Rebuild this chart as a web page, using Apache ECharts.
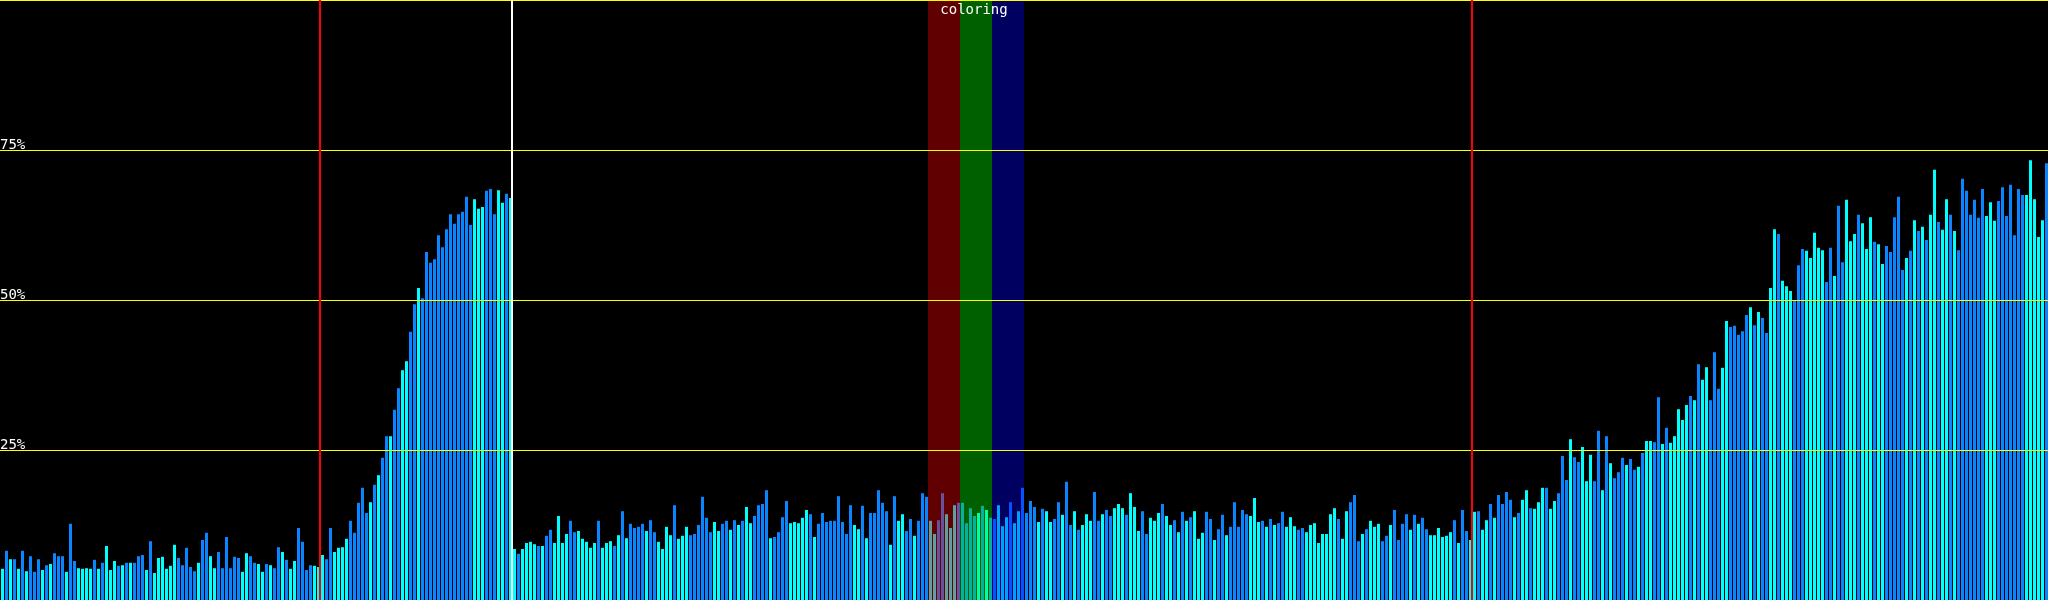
<!DOCTYPE html>
<html>
<head>
<meta charset="utf-8">
<script src="https://cdn.jsdelivr.net/npm/echarts@6/dist/echarts.min.js"></script>
<style>
  html, body { margin: 0; padding: 0; background: #000; }
  #chart { width: 2048px; height: 600px; }
</style>
</head>
<body>
<div id="chart"></div>
<script>
// ---- data (bar heights in percent) ----
const values = [
  // 0-79
  5.2,8.2,6.8,6.8,5.2,8.2,4.8,7.3,4.7,6.8,
  5.0,5.8,6.0,7.8,7.3,7.3,4.7,12.7,6.5,5.3,
  5.2,5.3,5.2,6.7,5.2,6.2,9.0,5.0,6.5,5.7,
  5.8,6.2,6.2,6.2,7.3,7.5,5.0,9.8,4.5,7.0,
  7.2,5.2,5.7,9.2,7.0,5.8,8.7,5.5,4.8,6.2,
  10.0,11.2,7.3,5.3,8.0,5.3,10.5,5.3,7.2,7.0,
  4.7,7.8,7.3,6.2,6.0,4.7,6.0,5.8,5.3,8.8,
  8.0,6.7,5.2,6.5,12.0,9.7,5.0,5.8,5.7,5.5,
  // 80-127
  7.5,6.8,12.0,8.0,8.7,8.8,10.2,13.2,11.2,16.2,
  18.7,14.5,16.3,19.2,20.8,23.7,27.3,27.3,31.7,35.3,
  38.3,39.8,44.7,49.3,52.0,50.3,58.0,56.2,56.8,60.8,
  58.8,61.8,64.3,62.7,64.3,64.7,67.2,62.5,66.8,65.2,
  65.5,68.2,68.5,64.3,68.3,66.2,67.7,67.0,
  // 128-187
  8.5,7.7,8.5,9.5,9.7,9.3,9.0,9.0,10.7,11.7,
  9.5,14.0,9.5,11.0,13.2,11.3,11.5,10.2,9.7,8.7,
  9.5,13.2,8.7,9.5,9.8,9.0,10.8,14.8,10.3,12.7,
  12.0,12.2,12.7,11.5,13.3,11.3,9.7,8.5,12.2,10.8,
  15.8,10.2,10.7,12.2,10.8,11.0,12.5,17.2,13.7,11.3,
  13.0,11.5,12.7,13.2,11.7,13.3,12.5,13.2,15.5,12.8,
  // 188-247
  14.0,15.8,16.0,18.3,10.3,10.5,11.3,13.8,16.5,12.8,
  13.0,12.8,13.7,15.0,14.3,10.5,12.7,14.5,13.0,13.2,
  13.2,17.3,13.0,11.0,15.8,12.5,11.8,15.7,10.3,14.5,
  14.5,18.3,16.2,14.8,9.2,17.3,13.2,14.3,11.5,13.5,
  10.7,13.2,17.8,17.2,13.2,11.0,13.3,17.8,14.3,12.0,
  15.8,16.2,16.2,12.8,15.3,14.0,14.5,15.7,15.0,13.7,
  // 248-307
  13.5,15.8,12.3,13.8,16.3,12.8,14.8,18.7,14.5,16.5,
  15.5,13.0,15.2,14.8,13.0,13.5,16.3,14.2,19.7,12.5,
  14.8,11.7,12.5,14.3,13.2,18.0,13.2,14.3,15.0,14.0,
  15.3,16.0,15.3,14.2,17.8,15.5,11.5,14.8,11.0,13.7,
  13.2,14.5,16.0,14.0,12.5,13.3,11.3,14.7,13.2,13.8,
  14.8,10.2,11.2,14.7,13.5,10.0,11.8,14.2,10.8,12.2,
  // 308-367
  16.3,12.2,15.0,14.3,14.0,17.0,13.0,13.2,12.2,13.5,
  12.5,12.8,14.7,12.2,13.8,12.3,11.7,12.0,11.3,12.5,
  12.8,9.5,11.0,11.0,14.3,15.3,13.5,10.2,14.8,16.3,
  17.5,9.8,11.0,11.8,13.2,12.2,12.7,9.8,10.7,12.5,
  15.0,10.0,12.7,14.3,11.7,14.2,12.7,13.7,11.8,10.8,
  10.8,12.0,10.5,10.7,11.3,13.3,9.5,15.0,11.5,10.0,
  // 368-439
  14.7,14.8,11.7,13.3,16.0,13.7,17.5,16.0,18.0,16.7,
  13.8,14.5,16.7,18.3,15.3,15.2,16.3,18.7,18.7,15.2,
  16.5,17.8,24.0,20.0,26.8,23.8,23.0,25.5,19.8,24.2,
  19.8,28.2,18.3,27.3,22.8,20.3,21.3,23.7,22.5,23.5,
  21.7,22.2,24.5,26.5,26.5,26.3,33.8,26.0,28.7,26.2,
  27.3,31.8,30.0,32.5,34.0,33.3,39.3,36.7,38.8,33.3,
  41.3,35.2,38.7,46.5,45.5,45.7,44.2,44.8,47.5,48.8,
  45.8,48.0,
  // 440-511
  47.0,44.5,52.0,61.8,61.0,53.2,52.3,51.5,50.0,55.8,
  58.5,58.2,57.0,61.2,58.7,58.3,53.0,58.7,54.0,65.7,
  56.3,66.7,59.8,61.0,64.2,62.8,58.5,63.8,59.7,59.3,
  56.0,59.0,58.0,63.8,67.2,55.0,57.0,58.2,63.3,61.5,
  62.2,60.0,64.2,71.7,63.0,61.7,66.8,64.2,61.5,58.3,
  70.2,68.2,64.2,66.7,63.7,68.5,64.0,66.3,63.2,66.5,
  68.8,64.0,69.2,60.8,68.5,67.5,67.5,73.3,66.8,60.5,
  63.3,72.8
];

// tone of each bar: B = blue, C = cyan
const tones = [
  "CBCBCBCBBB","CBCBBBCBBC","CCCBCBCCCB","CBCBBBCBCC","CCCCBBBBBC",
  "BBCCBBBBBB","CCBBCCBCBB","CBCCBBBBCC","CBBCCCCBBB","BBCBCBBCBB",
  "CCBBCBBBBB","BBBBBBBBCC","CBBBCCBC",
  "CBCCCCBCBB","CCCCBBCCCC","CBCCCBCBCB","BBBCBBCCCC","BCCCBBBBBB","CCBBCBCBCC",
  "BBBBCBBBBC","CCCCBCBBBB","BBBBBCCBCB","BBBBCBCCBB","CBBBCCBBCC","CBBBBBCBCB",
  "BCCCBCCBBB","BCBCCBBCBB","CBCCCBBCBB","CCCBCCCBBC","CCBCCBCBCB","CCCBBCBBCB",
  "BBBBCCCBCB","CBBCCCBBCC","CCCCCCBCCB","BBCBCCCBBC","BBBBCBCBBC","CCCCCBCBBC",
  "CBCCBCBBBB","CBCCBCCCBC","CBBBCBBCCC","BBCBCBBBCB","BCBCCBBCBC","CCCCBCBCCB",
  "BBCCBBBBBC","BC",
  "BBCCBCCCBB","BCCCCCBBCB","BCCCBCCCBC","CBBBBBCBCB","CBCCBCCBCB","BBBBBBCCCB",
  "BBBBBBCCCC","CB"
].join('').split('');

const categories = values.map((_, i) => String(i));

// overlay bands (bar-slot units) and marker lines (bar-slot boundaries)
const bandStarts = [232, 240, 248];
const bandEnds = [240, 248, 256];
const redMarks = [80, 368];
const whiteMarks = [128];
const titleText = 'coloring';

// ---- styles ----
const BLUE = '#0a84ff';
const CYAN = '#00ffff';
const YELLOW = '#ffff00';
const bandColors = ['rgba(255,0,0,0.375)', 'rgba(0,255,0,0.375)', 'rgba(0,0,255,0.375)'];

const chart = echarts.init(document.getElementById('chart'), null, { renderer: 'canvas' });

const lineData = [];
redMarks.forEach(x => lineData.push({ xAxis: x, lineStyle: { color: '#ff0000', width: 2, type: 'solid' } }));
whiteMarks.forEach(x => lineData.push({ xAxis: x, lineStyle: { color: '#ffffff', width: 2, type: 'solid' } }));

const option = {
  backgroundColor: '#000000',
  animation: false,
  grid: [
    { left: 0.5, right: -0.5, top: 0, bottom: 0, containLabel: false, outerBoundsMode: 'none' },
    { left: 0, right: 0, top: 0, bottom: 0, containLabel: false, outerBoundsMode: 'none' }
  ],
  xAxis: [
    { type: 'category', gridIndex: 0, data: categories, boundaryGap: true, show: false },
    { type: 'value', gridIndex: 1, min: 0, max: values.length, show: false }
  ],
  yAxis: [
    {
      type: 'value', gridIndex: 1, min: 0, max: 100, interval: 25, z: 20,
      axisLine: { show: false }, axisTick: { show: false },
      splitLine: { show: true, lineStyle: { color: YELLOW, width: 1, type: 'solid' } },
      axisLabel: {
        inside: true, margin: 0, formatter: '{value}%', color: '#ffffff',
        fontFamily: 'DejaVu Sans Mono', fontSize: 14, verticalAlign: 'bottom',
        lineHeight: 10, showMinLabel: false, showMaxLabel: false
      }
    },
    { type: 'value', gridIndex: 0, min: 0, max: 100, interval: 25, show: false }
  ],
  series: [
    {
      type: 'bar', xAxisIndex: 0, yAxisIndex: 1, barWidth: 3, z: 2,
      silent: true,
      data: values.map((v, i) => ({ value: v, itemStyle: { color: tones[i] === 'B' ? BLUE : CYAN } }))
    },
    {
      type: 'line', xAxisIndex: 1, yAxisIndex: 0, data: [], z: 10, silent: true,
      markArea: {
        silent: true, z: 10,
        data: bandStarts.map((s, k) => [
          { xAxis: s, itemStyle: { color: bandColors[k] } },
          { xAxis: bandEnds[k] }
        ])
      },
      markLine: {
        silent: true, z: 22, symbol: ['none', 'none'], label: { show: false },
        animation: false,
        data: lineData
      }
    }
  ],
  graphic: [{
    type: 'text', x: 974, y: 3, z: 100,
    style: {
      text: titleText, fill: '#ffffff', font: '14px "DejaVu Sans Mono"',
      textAlign: 'center', textVerticalAlign: 'top'
    }
  }]
};

chart.setOption(option);
</script>
</body>
</html>
